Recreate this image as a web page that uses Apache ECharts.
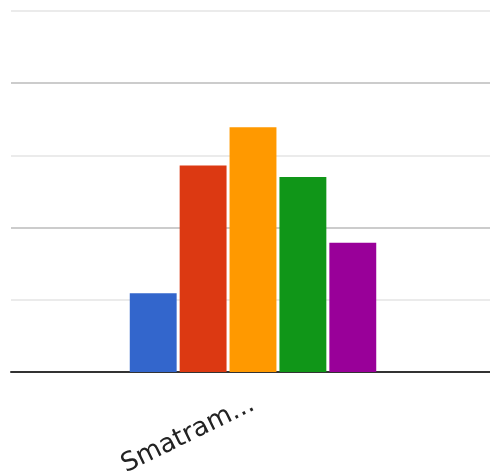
<!DOCTYPE html>
<html>
<head>
<meta charset="utf-8">
<script src="https://cdn.jsdelivr.net/npm/echarts@6/dist/echarts.min.js"></script>
<style>html,body{margin:0;padding:0;background:#fff}#c{width:490px;height:475px}</style>
</head>
<body>
<div id="c"></div>
<script>
var categories = ['Smatram...'];
var seriesNames = ['A', 'B', 'C', 'D', 'E'];
var seriesValues = [[1.09], [2.86], [3.39], [2.7], [1.79]];
var colors = ['#3366cc', '#dc3912', '#ff9900', '#109618', '#990099'];

var chart = echarts.init(document.getElementById('c'));
chart.setOption({
  animation: false,
  grid: [
    { left: 11, right: 0, top: 11, bottom: 103, outerBoundsMode: 'none', containLabel: false },
    { left: 16, right: 0, top: 11, bottom: 103, outerBoundsMode: 'none', containLabel: false }
  ],
  xAxis: [
    {
      gridIndex: 0, type: 'category', data: categories,
      axisLine: { lineStyle: { color: '#333', width: 2 } },
      axisTick: { show: false }, axisLabel: { show: false }
    },
    {
      gridIndex: 1, type: 'category', data: categories,
      axisLine: { show: false }, axisTick: { show: false },
      axisLabel: { rotate: 26, margin: 31, fontSize: 26, color: '#222', fontFamily: 'DejaVu Sans, sans-serif' }
    }
  ],
  yAxis: [
    {
      gridIndex: 0, type: 'value', min: 0, max: 5, interval: 1,
      axisLabel: { show: false }, axisLine: { show: false }, axisTick: { show: false },
      splitLine: { lineStyle: { color: ['#cccccc', '#ebebeb'], width: 2 } }
    },
    {
      gridIndex: 1, type: 'value', min: 0, max: 5, interval: 1,
      axisLabel: { show: false }, axisLine: { show: false }, axisTick: { show: false },
      splitLine: { show: false }
    }
  ],
  series: seriesNames.map(function (n, i) {
    return {
      name: n, type: 'bar', data: seriesValues[i],
      xAxisIndex: 1, yAxisIndex: 1,
      barGap: '6.4%', barCategoryGap: '48%',
      itemStyle: { color: colors[i] }
    };
  })
});
</script>
</body>
</html>
